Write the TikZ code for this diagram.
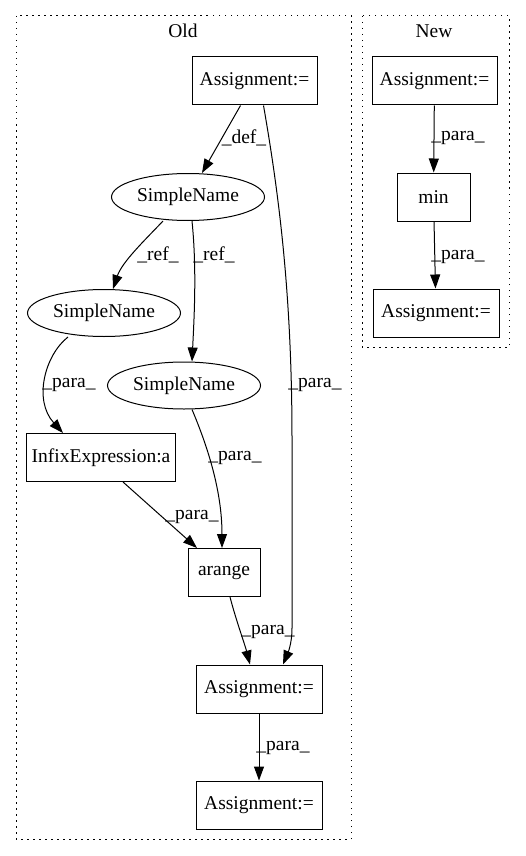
\documentclass[tikz,border=0pt]{standalone}
\usepackage{fontspec}
\setmainfont{Liberation Serif}
\usepackage{tikz}
\usetikzlibrary{arrows.meta,shapes.geometric}
\definecolor{edgeblack}{RGB}{0,0,0}

\tikzset{
	box/.style={draw,rectangle,line width=1pt,inner sep=0pt,minimum height=48pt},
	oval/.style={draw,ellipse,line width=1pt,inner sep=0pt,minimum width=153pt,minimum height=47pt},
	cluster/.style={line width=1pt,dash pattern=on 1.5pt off 4.5pt},
	flow/.style={draw=edgeblack,line width=1pt,-{Triangle[length=14pt,width=10pt]}},
	lbl/.style={inner sep=0pt}
}

\begin{document}
\begin{tikzpicture}[x=1pt,y=-1pt,font=\fontsize{19.5}{21}\selectfont]
			\useasboundingbox (0,0) rectangle (525,856);
			% clusters
			\draw[cluster] (16,16) rectangle (351,839);
			\draw[cluster] (362,16) rectangle (509,347);
			\node[lbl] (old) at (183,31) {Old};
			\node[lbl] (new) at (434,31) {New};
			% old
			\node[box,minimum width=125pt] (a_1) at (254.5,81) {Assignment:=};
			\node[oval] (sn_1) at (188,197) {SimpleName};
			\node[oval] (sn_2) at (104,313) {SimpleName};
			\node[oval] (sn_3) at (184,385.5) {SimpleName};
			\node[box,minimum width=149pt] (infix) at (101,457.5) {InfixExpression:a};
			\node[box,minimum width=72pt] (arange) at (224,572.5) {arange};
			\node[box,minimum width=126pt] (a_2) at (259,689) {Assignment:=};
			\node[box,minimum width=126pt] (a_3) at (259,805) {Assignment:=};
			% new
			\node[box,minimum width=125pt] (na_1) at (434.5,81) {Assignment:=};
			\node[box,minimum width=73pt] (min) at (433.5,197) {min};
			\node[box,minimum width=126pt] (na_2) at (436,313) {Assignment:=};

			\draw[flow] ([xshift=-14pt]a_1.south) -- ([xshift=14pt]sn_1.north);
			\draw[flow] ([xshift=9pt]a_1.south) .. controls (280,200) and (292,300) .. (292,440) -- (292,628) .. controls (292,645) and (287,655) .. ([xshift=24pt]a_2.north);
			\draw[flow] ([xshift=-25pt]sn_1.south) .. controls (145,240) and (122,262) .. ([xshift=9pt]sn_2.north);
			\draw[flow] ([xshift=4pt]sn_1.south) .. controls (197,270) and (194,320) .. ([xshift=8pt]sn_3.north);
			\draw[flow] ([xshift=-36pt]sn_2.south) .. controls (45,355) and (33,400) .. ([xshift=-38pt]infix.north);
			\draw[flow] ([xshift=8pt]sn_3.south) .. controls (207,445) and (222,490) .. ([xshift=-2pt]arange.north);
			\draw[flow] ([xshift=22pt]infix.south) -- ([xshift=-27pt]arange.north);
			\draw[flow] ([xshift=6pt]arange.south) .. controls (236,620) and (245,645) .. ([xshift=-9pt]a_2.north);
			\draw[flow] (a_2) -- (a_3);
			\draw[flow] (na_1) -- (min);
			\draw[flow] (min) -- (na_2);

			\node[lbl] (l_1) at (244,138) {\_def\_};
			\node[lbl] (l_2) at (315,385) {\_para\_};
			\node[lbl] (l_3) at (158,255) {\_ref\_};
			\node[lbl] (l_4) at (214,255) {\_ref\_};
			\node[lbl] (l_5) at (69,385) {\_para\_};
			\node[lbl] (l_6) at (235,458) {\_para\_};
			\node[lbl] (l_7) at (192,517) {\_para\_};
			\node[lbl] (l_8) at (268,632) {\_para\_};
			\node[lbl] (l_9) at (283,748) {\_para\_};
			\node[lbl] (l_10) at (458,138) {\_para\_};
			\node[lbl] (l_11) at (458,257) {\_para\_};
		\end{tikzpicture}
\end{document}
